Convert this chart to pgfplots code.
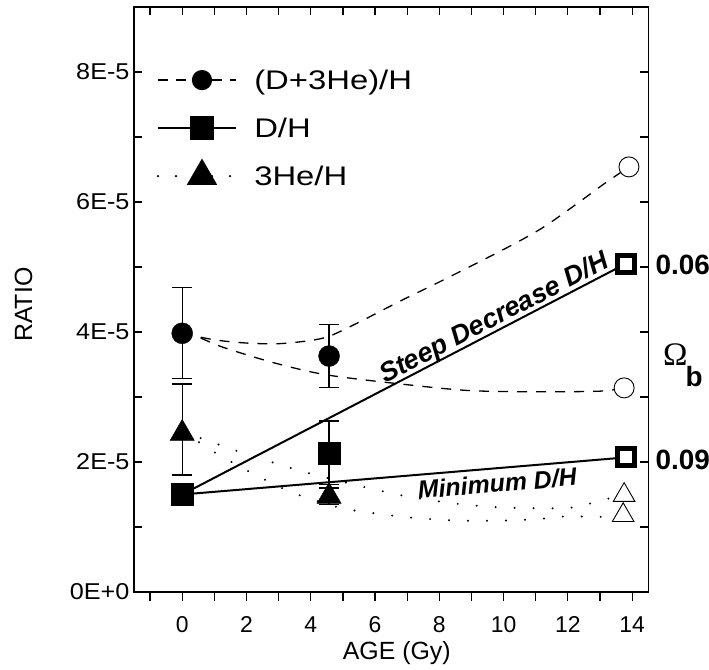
\documentclass[border=0pt]{standalone}
\usepackage{fontspec}
\setmainfont{Liberation Sans}
\newfontfamily\omegafont{Liberation Serif}
\newfontfamily\widefont{Liberation Sans}[FakeStretch=1.22]
\newfontfamily\tickfont{Liberation Sans}[FakeStretch=1.1]
\usepackage{pgfplots}
\pgfplotsset{compat=1.18}
\begin{document}
\begin{tikzpicture}
\useasboundingbox (-134bp,-78bp) rectangle (575bp,592bp);
\begin{axis}[
 at={(0,0)}, anchor=south west,
 x=32.14bp, y=65bp,
 xmin=-1.5, xmax=14.5, ymin=0, ymax=9,
 clip=false,
 axis line style={line width=1.2bp},
 tick style={line width=1.2bp, black},
 tick align=inside,
 major tick length=8bp, minor tick length=8bp,
 xtick={-1,0,...,14}, xtick pos=top, xticklabels={},
 ytick={0,2,4,6,8}, minor ytick={1,3,5,7}, ytick pos=both, yticklabel pos=left,
 yticklabels={0E+0,2E-5,4E-5,6E-5,8E-5},
 yticklabel style={font=\tickfont\fontsize{23}{23}\selectfont, xshift=-1bp},
 ylabel={RATIO},
 every axis y label/.style={at={(axis description cs:-0.215,0.491)}, rotate=90, anchor=center, font=\fontsize{25}{25}\selectfont},
 legend image code/.code={\draw[mark repeat=2,mark phase=2,#1] plot coordinates {(0bp,0bp) (44bp,0bp) (78bp,0bp)};},
 legend style={draw=none, fill=none, at={(axis cs:-0.8,8.14)}, anchor=north west, inner sep=0pt,
   font=\widefont\fontsize{27}{27}\selectfont, row sep=14bp,
   nodes={inner sep=0pt, minimum height=34bp},
   /tikz/every odd column/.append style={column sep=17bp}},
 legend cell align=left,
]
\addlegendimage{black, line width=2.2bp, dash pattern=on 10bp off 8bp, mark=*, mark size=9bp, mark options={solid}}
\addlegendentry{(D+3He)/H}
\addlegendimage{black, line width=2.2bp, mark=square*, mark size=11bp, mark options={solid}}
\addlegendentry{D/H}
\addlegendimage{black, line width=2.6bp, line cap=round, dash pattern=on 0bp off 18bp, mark=triangle*, mark size=15bp, mark options={solid}}
\addlegendentry{3He/H}

% open markers at 13.8 Gy (drawn first, lines pass over)
\addplot[forget plot, only marks, mark=*, mark size=10bp, mark options={fill=white, draw=black, line width=0.9bp}] coordinates {(13.9,6.54) (13.75,3.14)};
\addplot[forget plot, only marks, mark=square*, mark size=8.5bp, mark options={fill=white, draw=black, line width=5bp}] coordinates {(13.8,5.05) (13.8,2.07)};
\addplot[forget plot, only marks, mark=triangle*, mark size=12.5bp, mark options={fill=white, draw=black, line width=0.9bp}] coordinates {(13.75,1.49) (13.72,1.18)};

% (D+3He)/H curves
\addplot[forget plot, black, line width=1.3bp, dash pattern=on 10bp off 9bp, smooth] coordinates {
(0,3.98) (1,3.88) (2,3.83) (3,3.82) (4,3.87) (4.6,3.94) (5.5,4.15) (6.8,4.48) (8,4.77) (10,5.27) (11.2,5.6) (12.3,5.98) (13.1,6.27) (13.9,6.54)};
\addplot[forget plot, black, line width=1.3bp, dash pattern=on 10bp off 9bp, smooth] coordinates {
(0,3.98) (0.5,3.92) (1.3,3.76) (2.9,3.52) (4.5,3.34) (6.8,3.2) (8.9,3.1) (11,3.08) (13,3.09) (13.75,3.14)};

% D/H lines
\addplot[forget plot, black, line width=2bp] coordinates {(0,1.5) (13.8,5.05)};
\addplot[forget plot, black, line width=2bp] coordinates {(0,1.5) (13.8,2.07)};

% 3He/H dotted curves
\addplot[forget plot, black, line width=2.2bp, line cap=round, dash pattern=on 0bp off 19bp, smooth] coordinates {
(0,2.44) (0.5,2.38) (1.7,2.17) (2.9,1.98) (4,1.82) (5.2,1.67) (5.8,1.6) (7,1.47) (8.5,1.36) (10,1.3) (11.9,1.29) (12.6,1.35) (13.2,1.43) (13.75,1.49)};
\addplot[forget plot, black, line width=2.2bp, line cap=round, dash pattern=on 0bp off 19bp, smooth] coordinates {
(0,2.44) (0.5,2.31) (1,2.15) (2.05,1.86) (3.1,1.6) (3.7,1.48) (4.8,1.31) (5.4,1.25) (7,1.15) (8.5,1.1) (10,1.1) (11,1.12) (12.1,1.17) (12.75,1.15) (13.72,1.18)};

% filled data points with error bars
\addplot[forget plot, black, only marks, mark=*, mark size=10.5bp,
  error bars/.cd, y dir=both, y explicit,
  error bar style={line width=1.2bp},
  error mark options={rotate=90, mark size=10bp, line width=1.2bp}]
  coordinates {(0,3.98) +- (0,0.7) (4.57,3.63) +- (0,0.49)};
\addplot[forget plot, black, only marks, mark=triangle*, mark size=14bp,
  error bars/.cd, y dir=both, y explicit,
  error bar style={line width=1.2bp},
  error mark options={rotate=90, mark size=10bp, line width=1.2bp}]
  coordinates {(0,2.44) += (0,0.76) -= (0,0.64) (4.57,1.47) += (0,0.13) -= (0,0.13)};
\addplot[forget plot, black, only marks, mark=square*, mark size=11bp,
  error bars/.cd, y dir=both, y explicit,
  error bar style={line width=1.2bp},
  error mark options={rotate=90, mark size=10bp, line width=1.2bp}]
  coordinates {(0,1.5) +- (0,0) (4.57,2.14) +- (0,0.49)};

% annotations
\node[font=\bfseries\itshape\fontsize{27}{27}\selectfont, rotate=27.5, inner sep=0pt] at (axis cs:9.72,4.2) {Steep Decrease D/H};
\node[font=\bfseries\itshape\fontsize{25}{25}\selectfont, rotate=4.9, inner sep=0pt] at (axis cs:9.8,1.67) {Minimum D/H};
\node[anchor=west, inner sep=0pt, font=\bfseries\fontsize{28}{28}\selectfont] at (axis cs:14.72,5.03) {0.06};
\node[anchor=west, inner sep=0pt, font=\bfseries\fontsize{28}{28}\selectfont] at (axis cs:14.72,2.03) {0.09};
\node[inner sep=0pt, font=\omegafont\fontsize{33}{33}\selectfont] at (axis cs:15.34,3.65) {Ω};
\node[inner sep=0pt, font=\bfseries\fontsize{28}{28}\selectfont] at (axis cs:15.93,3.32) {b};
\end{axis}
\begin{axis}[
 at={(0,0)}, anchor=south west,
 x=32.14bp, y=65bp,
 xmin=-1.5, xmax=14.5, ymin=0, ymax=9,
 axis line style={line width=1.2bp},
 tick style={line width=1.2bp, black},
 tick align=outside,
 major tick length=9bp, minor tick length=9bp,
 xtick={0,2,...,14}, minor xtick={-1,1,...,13}, xtick pos=bottom,
 ytick=\empty,
 /pgf/number format/assume math mode=true,
 xticklabel style={font=\fontsize{23}{23}\selectfont, yshift=-12bp},
 xlabel={AGE (Gy)},
 every axis x label/.style={at={(axis description cs:0.511,-0.104)}, anchor=center, font=\fontsize{25}{25}\selectfont},
]
\end{axis}
\end{tikzpicture}
\end{document}
